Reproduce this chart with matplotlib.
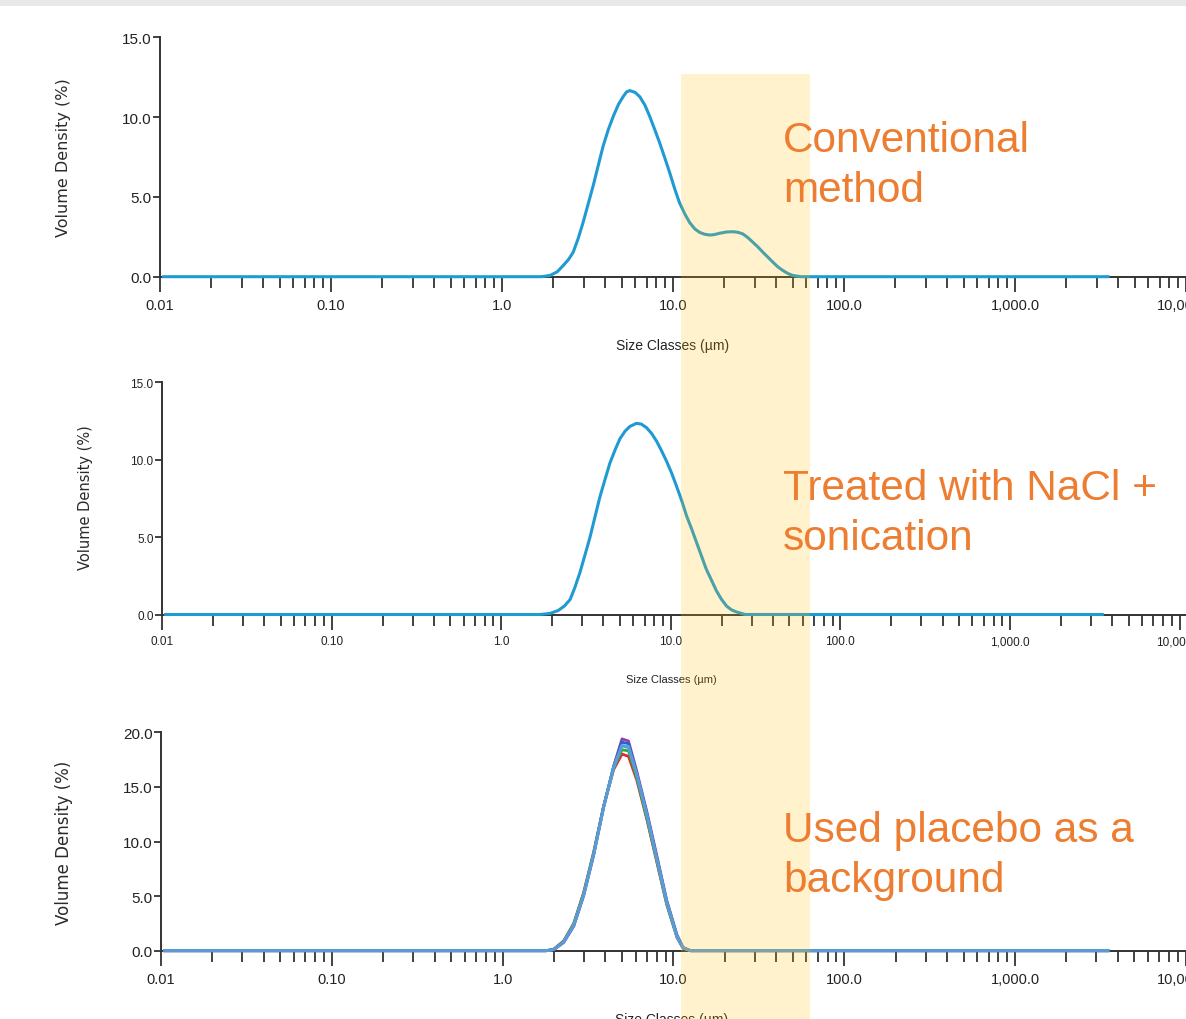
import numpy as np
import matplotlib
matplotlib.use('Agg')
import matplotlib.pyplot as plt
from matplotlib.patches import Rectangle
from matplotlib.ticker import FixedLocator, FixedFormatter, FormatStrFormatter, MultipleLocator
import matplotlib.transforms as mtransforms

W, H = 1186, 1020
TICKFONT = ['Liberation Sans', 'DejaVu Sans']
ORANGE = '#ED7D31'
BLUE = '#1f9ad2'

# x tick labels (decades)
xticks = [0.01, 0.1, 1, 10, 100, 1000, 10000]
xticklabels = ['0.01', '0.10', '1.0', '10.0', '100.0', '1,000.0', '10,000.0']

# panel 1: conventional method
size1 = [0.0105, 1.7, 1.91, 2.1, 2.28, 2.45, 2.61, 2.79, 2.98, 3.18, 3.41, 3.65, 3.90,
         4.18, 4.47, 4.8, 5.11, 5.35, 5.59, 6.0, 6.39, 6.85, 7.31, 7.8, 8.36, 8.95,
         9.57, 10.2, 10.9, 11.7, 12.5, 13.4, 14.3, 15.3, 16.4, 17.5, 18.7, 20.5, 22.4,
         24.0, 25.6, 27.4, 29.3, 31.4, 33.5, 35.9, 38.4, 41.0, 43.9, 47.0, 50.1, 56.0, 3500]
vol1 = [0, 0, 0.08, 0.3, 0.7, 1.08, 1.54, 2.4, 3.4, 4.5, 5.68, 6.95, 8.17,
        9.2, 10.04, 10.8, 11.28, 11.58, 11.66, 11.55, 11.28, 10.75, 10.04, 9.25, 8.38, 7.45,
        6.51, 5.55, 4.65, 3.95, 3.40, 3.0, 2.78, 2.66, 2.61, 2.64, 2.72, 2.8, 2.82,
        2.78, 2.68, 2.45, 2.16, 1.86, 1.54, 1.22, 0.91, 0.62, 0.39, 0.2, 0.08, 0, 0]

# panel 2: NaCl + sonication
size2 = [0.0105, 1.7, 1.94, 2.17, 2.36, 2.55, 2.72, 2.91, 3.12, 3.34, 3.57, 3.82, 4.1,
         4.38, 4.7, 5.01, 5.38, 5.74, 6.28, 6.7, 7.19, 7.7, 8.24, 8.8, 9.43, 10.1, 10.8,
         11.6, 12.4, 13.3, 14.2, 15.2, 16.2, 17.4, 18.6, 19.9, 21.3, 22.8, 24.3, 27.5, 3500]
vol2 = [0, 0, 0.07, 0.26, 0.55, 0.97, 1.75, 2.7, 3.85, 5.0, 6.3, 7.6, 8.75,
        9.8, 10.65, 11.35, 11.85, 12.15, 12.35, 12.3, 12.07, 11.7, 11.2, 10.6, 9.91, 9.15, 8.30,
        7.35, 6.36, 5.5, 4.64, 3.75, 2.92, 2.2, 1.52, 0.98, 0.55, 0.3, 0.17, 0, 0]

# panel 3: placebo background, replicate runs
size3 = [0.0105, 1.8, 1.99, 2.28, 2.61, 2.98, 3.41, 3.90, 4.47, 5.0, 5.46, 6.11, 7.0,
         8.0, 9.15, 10.5, 11.4, 12.6, 3500]
run_red = [0, 0, 0.14, 0.9, 2.5, 5.3, 9.0, 13.2, 16.6, 18.0, 17.8, 15.6, 12.0, 8.1, 4.2, 1.2, 0.22, 0, 0]
run_green = [0, 0, 0.12, 0.85, 2.45, 5.25, 8.95, 13.2, 16.7, 18.4, 18.3, 15.8, 12.1, 8.2, 4.25, 1.25, 0.24, 0, 0]
run_purple = [0, 0, 0.08, 0.75, 2.25, 5.0, 8.7, 13.1, 16.9, 19.4, 19.2, 16.4, 12.7, 8.7, 4.6, 1.45, 0.3, 0, 0]
run_blue = [0, 0, 0.1, 0.8, 2.3, 5.1, 8.8, 13.2, 16.9, 19.1, 18.95, 16.2, 12.5, 8.5, 4.45, 1.35, 0.27, 0, 0]
run_cyan = [0, 0, 0.1, 0.8, 2.35, 5.1, 8.8, 13.1, 16.8, 18.8, 18.7, 16.1, 12.4, 8.4, 4.4, 1.3, 0.25, 0, 0]
run_steel = [0, 0, 0.1, 0.8, 2.33, 5.1, 8.78, 13.1, 16.78, 18.75, 18.6, 16.1, 12.4, 8.4, 4.4, 1.33, 0.26, 0, 0]
runs3 = [(run_red, '#e8262a'), (run_green, '#2aa84a'), (run_purple, '#8e44ad'),
         (run_blue, '#3060c8'), (run_cyan, '#35c4d8'), (run_steel, '#5b9bd5')]

notes = [["Conventional", "method"],
         ["Treated with NaCl +", "sonication"],
         ["Used placebo as a", "background"]]

band_lo, band_hi = 11.1, 63.0


def px_box(left, top, right, bottom):
    return [left / W, 1 - bottom / H, (right - left) / W, (bottom - top) / H]


def style_axis(ax, ymax, xtick_fs, ytick_fs, ylab_fs, xlab_fs, ylab_xy, xlab_xy):
    ax.set_xscale('log')
    ax.set_xlim(0.01, 12000)
    ax.set_ylim(0, ymax)
    for s in ['top', 'right']:
        ax.spines[s].set_visible(False)
    for s in ['left', 'bottom']:
        ax.spines[s].set_color('#333333')
        ax.spines[s].set_linewidth(1.4)
    ax.xaxis.set_major_locator(FixedLocator(xticks))
    ax.xaxis.set_major_formatter(FixedFormatter(xticklabels))
    minors = [m * d for d in [0.01, 0.1, 1, 10, 100, 1000] for m in range(2, 10)]
    ax.xaxis.set_minor_locator(FixedLocator(minors))
    ax.xaxis.set_minor_formatter(FixedFormatter([]))
    ax.yaxis.set_major_locator(MultipleLocator(5))
    ax.yaxis.set_major_formatter(FormatStrFormatter('%.1f'))
    ax.tick_params(axis='x', which='major', length=11, width=1.3, color='#333333', pad=4)
    ax.tick_params(axis='x', which='minor', length=8, width=1.3, color='#333333')
    ax.tick_params(axis='y', which='major', length=5, width=1.3, color='#333333', pad=1)
    for lab in ax.get_xticklabels():
        lab.set_family(TICKFONT)
        lab.set_fontsize(xtick_fs)
        lab.set_color('#222222')
    for lab in ax.get_yticklabels():
        lab.set_family(TICKFONT)
        lab.set_fontsize(ytick_fs)
        lab.set_color('#222222')
    ax.set_ylabel('Volume Density (%)', fontsize=ylab_fs, color='#2a2a2a')
    ax.set_xlabel('Size Classes (µm)', fontsize=xlab_fs, family=TICKFONT, color='#222222')
    ax.yaxis.set_label_coords(ylab_xy[0] / W, 1 - ylab_xy[1] / H, transform=fig.transFigure)
    ax.xaxis.set_label_coords(xlab_xy[0] / W, 1 - xlab_xy[1] / H, transform=fig.transFigure)
    ax.patch.set_alpha(0)


fig = plt.figure(figsize=(W / 100, H / 100), dpi=100)

# grey strip at the top of the screenshot
fig.patches.append(Rectangle((0, 1 - 7 / H), 1, 7 / H, transform=fig.transFigure,
                             facecolor='#e8e8e8', edgecolor='none', zorder=0))

dec1, dec2, dec3 = 171.0, 169.6, 170.8
span = np.log10(12000 / 0.01)
ax1 = fig.add_axes(px_box(160, 38.3, 160 + dec1 * span, 277.7))
ax2 = fig.add_axes(px_box(162, 383.3, 162 + dec2 * span, 615.5))
ax3 = fig.add_axes(px_box(161, 733.3, 161 + dec3 * span, 951.7))

ax1.plot(size1, vol1, color=BLUE, lw=2.2, clip_on=False, zorder=3, solid_joinstyle='round')
ax2.plot(size2, vol2, color=BLUE, lw=2.2, clip_on=False, zorder=3, solid_joinstyle='round')
for vals, c in runs3:
    ax3.plot(size3, vals, color=c, lw=2.0, clip_on=False, zorder=3, solid_joinstyle='round')

style_axis(ax1, 15, 10.5, 11, 11.5, 10, (71, 158), (673, 339))
style_axis(ax2, 15, 8.5, 8.5, 10.5, 8, (93, 498), (671, 675))
style_axis(ax3, 20, 10.5, 11, 12, 10, (73, 843), (672, 1013))

# highlighted size range, laid over all three panels
trans = mtransforms.blended_transform_factory(ax1.transData, fig.transFigure)
fig.patches.append(Rectangle((band_lo, 0), band_hi - band_lo, 1 - 75 / H, transform=trans,
                             facecolor='#ffc000', alpha=0.2, edgecolor='none', zorder=5))

# orange notes
base_y = [(152, 202), (500, 550), (842, 892)]
for lines, ys in zip(notes, base_y):
    for txt, y in zip(lines, ys):
        fig.text(783 / W, 1 - y / H, txt, color=ORANGE, fontsize=30.5,
                 family=['Liberation Sans', 'DejaVu Sans'], va='baseline', ha='left', zorder=6)

fig.savefig('out.png', dpi=100)
